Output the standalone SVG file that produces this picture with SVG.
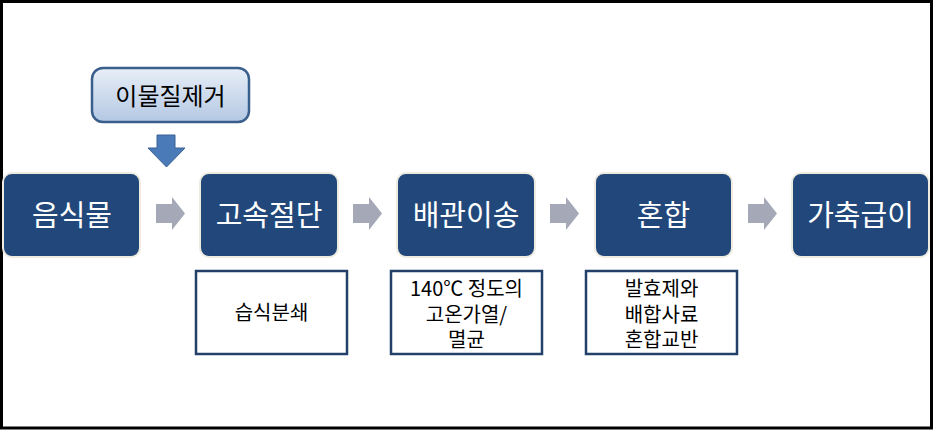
<svg xmlns="http://www.w3.org/2000/svg" width="945" height="430" viewBox="0 0 945 430">
<defs>
<linearGradient id="g1" x1="0" y1="0" x2="0" y2="1">
<stop offset="0" stop-color="#E8EEF7"/>
<stop offset="1" stop-color="#B3C8E3"/>
</linearGradient>
<style>
.k{font-family:"Noto Sans CJK KR","Malgun Gothic",sans-serif;text-anchor:middle}
.main rect{fill:#22487B;stroke:#EEECE1;stroke-width:2}
.main text{fill:#ffffff;font-size:29px}
.sub rect{fill:#ffffff;stroke:#22406A;stroke-width:2.5}
.sub text{fill:#000000;font-size:20px}
.garrow{fill:#A5A9B7}
</style>
</defs>
<rect x="0" y="0" width="945" height="430" fill="#ffffff"/>
<rect x="1.5" y="1.5" width="930" height="426.5" fill="none" stroke="#000" stroke-width="3"/>

<g id="remove">
<rect x="92" y="68" width="157" height="54" rx="11" fill="url(#g1)" stroke="#3A5F8C" stroke-width="2.5"/>
<text class="k" x="170.5" y="105" font-size="24" fill="#000">이물질제거</text>
</g>

<g id="n1" class="main">
<rect x="3" y="173" width="137" height="84" rx="9"/>
<text class="k" x="72" y="226">음식물</text>
</g>
<g id="n2" class="main">
<rect x="200" y="173" width="138" height="84" rx="9"/>
<text class="k" x="269" y="226">고속절단</text>
</g>
<g id="n3" class="main">
<rect x="397" y="173" width="138" height="84" rx="9"/>
<text class="k" x="466" y="226">배관이송</text>
</g>
<g id="n4" class="main">
<rect x="595" y="173" width="137" height="84" rx="9"/>
<text class="k" x="663.5" y="226">혼합</text>
</g>
<g id="n5" class="main">
<rect x="792" y="173" width="137" height="84" rx="9"/>
<text class="k" x="860.5" y="226">가축급이</text>
</g>

<g id="s2" class="sub">
<rect x="196" y="271" width="151" height="83"/>
<text class="k" x="271.5" y="320">습식분쇄</text>
</g>
<g id="s3" class="sub">
<rect x="391" y="271" width="151" height="83"/>
<text class="k" x="466.5" y="296">140℃ 정도의</text>
<text class="k" x="466.5" y="322">고온가열/</text>
<text class="k" x="466.5" y="347">멸균</text>
</g>
<g id="s4" class="sub">
<rect x="586" y="271" width="151" height="83"/>
<text class="k" x="661.5" y="296">발효제와</text>
<text class="k" x="661.5" y="322">배합사료</text>
<text class="k" x="661.5" y="347">혼합교반</text>
</g>

<g id="connectors">
<path d="M157,135 H175 V148 H185 L166.5,167 L148,148 H157 Z" fill="#4A7AB8" stroke="#3A6194" stroke-width="1"/>
<path class="garrow" d="M156,204 H172 V197 L185,213.5 L172,230 V223 H156 Z"/>
<path class="garrow" d="M353,204 H369 V197 L382,213.5 L369,230 V223 H353 Z"/>
<path class="garrow" d="M550,204 H566 V197 L579,213.5 L566,230 V223 H550 Z"/>
<path class="garrow" d="M748,204 H764 V197 L777,213.5 L764,230 V223 H748 Z"/>
</g>
</svg>
